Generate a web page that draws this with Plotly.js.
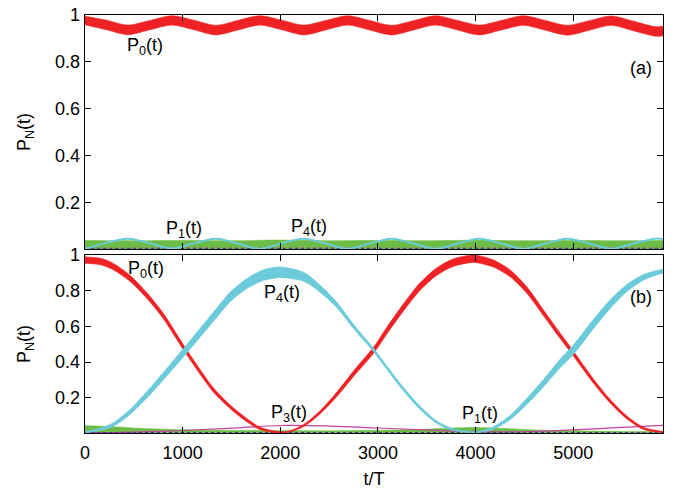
<!DOCTYPE html>
<html>
<head>
<meta charset="utf-8">
<script src="https://cdn.plot.ly/plotly-3.0.1.min.js"></script>
<style>html,body{margin:0;padding:0;background:#fff;}#chart{width:682px;height:489px;}</style>
</head>
<body>
<div id="chart"></div>
<script>
// ---------- panel (a) ----------
var tA = [0, 220, 440, 665, 890, 1115, 1340, 1565, 1790, 2015, 2240, 2465, 2690, 2915, 3140, 3365, 3590, 3815, 4040, 4265, 4490, 4715, 4940, 5165, 5390, 5615, 5840, 5920];
var p0aHi = [0.995, 0.978, 0.957, 0.977, 0.997, 0.978, 0.956, 0.977, 0.997, 0.978, 0.957, 0.977, 0.997, 0.977, 0.956, 0.976, 0.997, 0.977, 0.957, 0.977, 0.997, 0.977, 0.956, 0.976, 0.996, 0.974, 0.950, 0.952];
var p0aLo = [0.958, 0.937, 0.916, 0.937, 0.957, 0.937, 0.915, 0.936, 0.957, 0.937, 0.915, 0.936, 0.957, 0.936, 0.915, 0.936, 0.957, 0.936, 0.915, 0.936, 0.956, 0.935, 0.914, 0.935, 0.956, 0.933, 0.910, 0.911];
var p4a   = [0.005, 0.030, 0.048, 0.028, 0.006, 0.028, 0.048, 0.027, 0.005, 0.028, 0.048, 0.027, 0.005, 0.027, 0.048, 0.027, 0.005, 0.027, 0.048, 0.027, 0.005, 0.027, 0.048, 0.027, 0.005, 0.027, 0.048, 0.047];
var tGa   = [0, 500, 1000, 1500, 2000, 2500, 3000, 3500, 4000, 4500, 5000, 5500, 5920];
var p1aHi = [0.040, 0.039, 0.040, 0.039, 0.042, 0.039, 0.040, 0.039, 0.041, 0.039, 0.040, 0.039, 0.040];
var p1aLo = [0.004, 0.004, 0.004, 0.004, 0.004, 0.004, 0.004, 0.004, 0.004, 0.004, 0.004, 0.004, 0.004];
var p3a   = [0.008, 0.008, 0.009, 0.008, 0.008, 0.009, 0.008, 0.008, 0.009, 0.008, 0.008, 0.009, 0.008];
var p2a   = [0.005, 0.005, 0.005, 0.005, 0.005, 0.005, 0.005, 0.005, 0.005, 0.005, 0.005, 0.005, 0.005];

// ---------- panel (b) ----------
var tR = [0, 170, 290, 460, 630, 800, 1030, 1315, 1490, 1660, 1790, 1930, 2020, 2100, 2240, 2410, 2580, 2750, 2960, 3090, 3260, 3430, 3600, 3770, 3945, 4010, 4180, 4355, 4525, 4700, 4870, 5000, 5210, 5380, 5550, 5720, 5890, 5920];
var p0bHi = [0.990, 0.980, 0.953, 0.887, 0.791, 0.675, 0.479, 0.256, 0.158, 0.083, 0.036, 0.015, 0.010, 0.016, 0.051, 0.129, 0.232, 0.350, 0.487, 0.594, 0.725, 0.843, 0.927, 0.978, 0.999, 0.999, 0.973, 0.916, 0.822, 0.689, 0.560, 0.464, 0.304, 0.190, 0.098, 0.035, 0.014, 0.012];
var p0bLo = [0.954, 0.944, 0.917, 0.853, 0.759, 0.645, 0.451, 0.232, 0.138, 0.065, 0.022, 0.005, 0.002, 0.008, 0.039, 0.111, 0.208, 0.320, 0.453, 0.556, 0.685, 0.801, 0.885, 0.936, 0.957, 0.957, 0.933, 0.878, 0.786, 0.657, 0.530, 0.436, 0.280, 0.170, 0.082, 0.023, 0.006, 0.004];

var tC = [0, 150, 290, 460, 630, 800, 1030, 1315, 1490, 1660, 1830, 2000, 2240, 2410, 2580, 2750, 2960, 3090, 3260, 3430, 3600, 3770, 3945, 4010, 4180, 4355, 4525, 4700, 4870, 5000, 5210, 5380, 5550, 5720, 5890, 5920];
var p4bHi = [0.012, 0.029, 0.060, 0.134, 0.233, 0.341, 0.491, 0.680, 0.794, 0.869, 0.918, 0.933, 0.903, 0.830, 0.735, 0.612, 0.475, 0.380, 0.260, 0.154, 0.072, 0.027, 0.012, 0.010, 0.037, 0.102, 0.197, 0.306, 0.419, 0.494, 0.641, 0.749, 0.835, 0.891, 0.918, 0.920];
var p4bLo = [0.004, 0.017, 0.040, 0.106, 0.197, 0.299, 0.443, 0.628, 0.740, 0.813, 0.858, 0.873, 0.853, 0.790, 0.705, 0.588, 0.455, 0.360, 0.240, 0.136, 0.058, 0.017, 0.004, 0.003, 0.023, 0.078, 0.163, 0.264, 0.371, 0.442, 0.589, 0.701, 0.795, 0.859, 0.894, 0.896];

var tG = [0, 300, 600, 1000, 1500, 2000, 2500, 3000, 3400, 3700, 4000, 4300, 4600, 5000, 5500, 5920];
var p1bHi = [0.044, 0.038, 0.028, 0.021, 0.017, 0.016, 0.015, 0.018, 0.022, 0.030, 0.034, 0.028, 0.020, 0.015, 0.012, 0.012];
var p1bLo = [0.004, 0.004, 0.004, 0.004, 0.004, 0.004, 0.004, 0.004, 0.004, 0.004, 0.004, 0.004, 0.004, 0.004, 0.004, 0.004];

var tM = [0, 500, 1000, 1500, 2000, 2500, 3000, 3500, 4000, 4500, 5000, 5500, 5920];
var p3b = [0.004, 0.008, 0.017, 0.030, 0.045, 0.042, 0.031, 0.020, 0.010, 0.010, 0.020, 0.035, 0.046];
var p2b = [0.005, 0.005, 0.005, 0.005, 0.005, 0.005, 0.005, 0.005, 0.005, 0.005, 0.005, 0.005, 0.005];

var xTicks = [0, 1000, 2000, 3000, 4000, 5000];
var yTicks = [0.2, 0.4, 0.6, 0.8, 1];
var yTickText = ['0.2', '0.4', '0.6', '0.8', '1'];

var RED = '#ee2124', CYAN = '#6ccbdb', GREEN = '#6bbd45', MAG = '#c2409e', NAVY = '#2d2d8f';

function band(x, lo, hi, color, xa, ya) {
  return [
    {x: x, y: lo, xaxis: xa, yaxis: ya, type: 'scatter', mode: 'lines',
     line: {color: color, width: 0.6, shape: 'spline', smoothing: 0.8}, hoverinfo: 'skip', showlegend: false},
    {x: x, y: hi, xaxis: xa, yaxis: ya, type: 'scatter', mode: 'lines', fill: 'tonexty',
     fillcolor: color, line: {color: color, width: 0.6, shape: 'spline', smoothing: 0.8}, hoverinfo: 'skip', showlegend: false}
  ];
}
function thin(x, y, color, w, dash, xa, ya) {
  return {x: x, y: y, xaxis: xa, yaxis: ya, type: 'scatter', mode: 'lines',
          line: {color: color, width: w, dash: dash, shape: 'spline'}, hoverinfo: 'skip', showlegend: false};
}

var data = [];
// panel (a)
data = data.concat(band(tGa, p1aLo, p1aHi, GREEN, 'x', 'y'));
data.push(thin(tGa, p3a, MAG, 1, 'dot', 'x', 'y'));
data.push(thin(tGa, p2a, NAVY, 1, 'dot', 'x', 'y'));
data.push(thin(tA, p4a, CYAN, 2, 'solid', 'x', 'y'));
data = data.concat(band(tA, p0aLo, p0aHi, RED, 'x', 'y'));
// panel (b)
data = data.concat(band(tG, p1bLo, p1bHi, GREEN, 'x2', 'y2'));
data.push(thin(tM, p3b, MAG, 1.2, 'solid', 'x2', 'y2'));
data.push(thin(tM, p2b, NAVY, 1, 'dot', 'x2', 'y2'));
data = data.concat(band(tR, p0bLo, p0bHi, RED, 'x2', 'y2'));
data = data.concat(band(tC, p4bLo, p4bHi, CYAN, 'x2', 'y2'));

var FONT = {family: 'Liberation Sans, Arial, sans-serif', size: 18, color: '#000'};
var axCommon = {
  showline: true, linecolor: '#000', linewidth: 1.3, mirror: 'allticks',
  ticks: 'inside', ticklen: 6, tickwidth: 1, tickcolor: '#000',
  showgrid: false, zeroline: false, tickfont: FONT
};

var layout = {
  width: 682, height: 489,
  margin: {l: 85, r: 19, t: 15, b: 56},
  paper_bgcolor: '#fff', plot_bgcolor: '#fff',
  font: FONT,
  showlegend: false,
  xaxis: Object.assign({}, axCommon, {anchor: 'y', range: [0, 5920], tickvals: xTicks, showticklabels: false}),
  yaxis: Object.assign({}, axCommon, {domain: [0.4402, 1], range: [0.004, 1.0], tickvals: yTicks, ticktext: yTickText,
    title: {text: 'P<sub>N</sub>(t)', font: FONT, standoff: 19}}),
  xaxis2: Object.assign({}, axCommon, {anchor: 'y2', range: [0, 5920], tickvals: xTicks, ticklabelstandoff: 3,
    title: {text: 't/T', font: FONT, standoff: 14}}),
  yaxis2: Object.assign({}, axCommon, {domain: [0, 0.4258], anchor: 'x2', range: [0.003, 1.0], tickvals: yTicks, ticktext: yTickText,
    title: {text: 'P<sub>N</sub>(t)', font: FONT, standoff: 19}}),
  annotations: [
    {xref: 'x', yref: 'y', x: 615, y: 0.864, text: 'P<sub>0</sub>(t)', showarrow: false, font: FONT},
    {xref: 'x', yref: 'y', x: 1014, y: 0.085, text: 'P<sub>1</sub>(t)', showarrow: false, font: FONT},
    {xref: 'x', yref: 'y', x: 2295, y: 0.094, text: 'P<sub>4</sub>(t)', showarrow: false, font: FONT},
    {xref: 'x', yref: 'y', x: 5697, y: 0.774, text: '(a)', showarrow: false, font: FONT},
    {xref: 'x2', yref: 'y2', x: 625, y: 0.92, text: 'P<sub>0</sub>(t)', showarrow: false, font: FONT},
    {xref: 'x2', yref: 'y2', x: 2018, y: 0.787, text: 'P<sub>4</sub>(t)', showarrow: false, font: FONT},
    {xref: 'x2', yref: 'y2', x: 2090, y: 0.115, text: 'P<sub>3</sub>(t)', showarrow: false, font: FONT},
    {xref: 'x2', yref: 'y2', x: 4047, y: 0.104, text: 'P<sub>1</sub>(t)', showarrow: false, font: FONT},
    {xref: 'x2', yref: 'y2', x: 5697, y: 0.765, text: '(b)', showarrow: false, font: FONT}
  ]
};

Plotly.newPlot('chart', data, layout, {staticPlot: true, displayModeBar: false});
</script>
</body>
</html>
